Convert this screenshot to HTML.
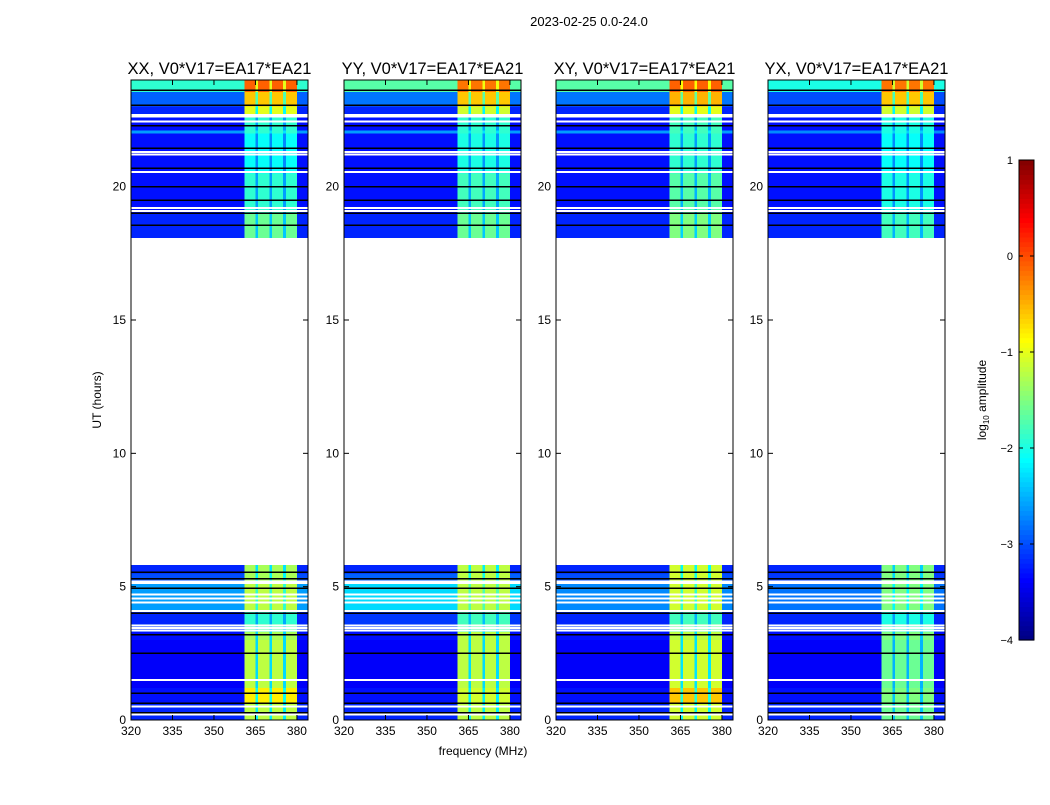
<!DOCTYPE html>
<html><head><meta charset="utf-8"><style>
body{margin:0;background:#fff;}
svg{font-family:"Liberation Sans",sans-serif;}
</style></head><body>
<svg id="fig" width="1050" height="800" viewBox="0 0 1050 800" xmlns="http://www.w3.org/2000/svg">
<text x="589" y="26" font-size="13" text-anchor="middle">2023-02-25 0.0-24.0</text>
<text x="483" y="755" font-size="12" text-anchor="middle">frequency (MHz)</text>
<text x="101" y="400" font-size="12" text-anchor="middle" transform="rotate(-90 101 400)">UT (hours)</text>
<g id="panels"></g>
<g id="cbar"></g>
</svg>
<script>
// ---- data ----
const panelTitles = ["XX, V0*V17=EA17*EA21","YY, V0*V17=EA17*EA21","XY, V0*V17=EA17*EA21","YX, V0*V17=EA17*EA21"];
const rowStart = [23.55,23.0,22.75,22.1,22.0,20.5,19.0,18.1, 5.5,5.2,4.05,3.6,3.3,3.0,1.2,0.6,0.0];
const rowEnd   = [24.0,23.55,23.0,22.6,22.1,22.0,20.5,19.0, 5.81,5.5,5.1,4.05,3.6,3.3,3.0,1.2,0.6];
const bgXX  = [-1.9,-2.9,-3.2,-3.3,-2.6,-3.3,-3.3,-3.2, -3.2,-3.0,-2.6,-3.2,-3.1,-3.3,-3.4,-3.3,-3.2];
const bgYY  = [-1.7,-2.8,-3.2,-3.3,-2.6,-3.3,-3.3,-3.2, -3.2,-2.9,-2.3,-3.1,-3.1,-3.3,-3.4,-3.3,-3.2];
const bgXY  = [-1.7,-2.8,-3.2,-3.3,-2.6,-3.3,-3.3,-3.2, -3.2,-3.0,-2.7,-3.2,-3.1,-3.3,-3.4,-3.3,-3.2];
const bgYX  = [-2.0,-3.0,-3.2,-3.3,-2.7,-3.3,-3.3,-3.2, -3.2,-3.1,-2.8,-3.2,-3.1,-3.3,-3.4,-3.3,-3.2];
const bandXX = [-0.1,-0.6,-1.0,-1.9,-1.9,-2.1,-1.9,-1.6, -1.3,-1.3,-1.2,-1.9,-1.7,-1.3,-1.2,-0.8,-1.2];
const bandYY = [-0.2,-0.6,-1.1,-1.9,-1.9,-2.0,-1.8,-1.6, -1.2,-1.2,-1.2,-1.8,-1.7,-1.2,-1.2,-1.1,-1.2];
const bandXY = [-0.1,-0.5,-1.0,-1.8,-1.8,-1.9,-1.7,-1.5, -1.1,-1.1,-1.1,-1.8,-1.6,-1.2,-1.1,-0.6,-1.1];
const bandYX = [-0.2,-0.6,-1.1,-2.0,-2.0,-2.1,-2.0,-1.8, -1.5,-1.5,-1.5,-2.0,-1.8,-1.5,-1.6,-1.5,-1.6];
const chanType = []; // per 1 MHz channel, 320..384: 0 background, 1 band, 2 gap
for (let f=320; f<384; f++) chanType.push((f>=361&&f<380)?([365,370,375].includes(f)?2:1):0);
const whiteHours = [22.68,22.45,21.3,21.2,20.55,19.2,19.08,5.15,5.2,4.7,4.55,4.4,4.08,3.55,3.45,3.35,1.5,0.5,0.2];
const blackHours = [23.62,23.05,22.28,21.45,20.7,20.0,19.5,19.0,18.55,5.55,5.3,4.95,4.0,3.2,2.5,1.0,0.62,0.28];
const xTicks = [320,335,350,365,380];
const yTicks = [0,5,10,15,20];
const cbTicks = [1,0,-1,-2,-3,-4];
const bgs=[bgXX,bgYY,bgXY,bgYX], bands=[bandXX,bandYY,bandXY,bandYX];
// ---- layout ----
const lefts=[131,344,556,768], PW=177, ptop=80, pbot=720;
const xs=f=>(f-320)*PW/64, ys=h=>pbot-(h/24)*(pbot-ptop);
function jet(v){ let t=(v+4)/5; t=Math.max(0,Math.min(1,t));
 const c=x=>Math.round(255*Math.max(0,Math.min(1,1.5-Math.abs(4*t-x))));
 return `rgb(${c(3)},${c(2)},${c(1)})`; }
const NS="http://www.w3.org/2000/svg";
function mk(tag,attrs,parent){const e=document.createElementNS(NS,tag);for(const k in attrs)e.setAttribute(k,attrs[k]);parent.appendChild(e);return e;}
const P=document.getElementById('panels');
for(let p=0;p<4;p++){
 const g=mk('g',{transform:`translate(${lefts[p]},0)`},P);
 
 
 const hm=mk('g',{'shape-rendering':'crispEdges'},g);
 for(let r=0;r<rowStart.length;r++){
  const y0=ys(rowEnd[r]), y1=ys(rowStart[r]);
  for(let c=0;c<chanType.length;c++){
   const t=chanType[c]; const v=t===0?bgs[p][r]:(t===1?bands[p][r]:(bands[p][r]+bgs[p][r])/2);
   const el=mk('rect',{x:xs(320+c),y:y0,width:xs(321)-xs(320)+0.5,height:y1-y0+0.5,fill:jet(v)},hm);
   
   
  }
 }
 whiteHours.forEach(h=>{const el=mk('rect',{x:0,y:ys(h)-1,width:PW,height:2,fill:'#fff'},hm);
  });
 blackHours.forEach(h=>{const el=mk('rect',{x:0,y:ys(h)-0.75,width:PW,height:1.5,fill:'#000'},hm);
  });
 const fr=mk('rect',{x:0,y:ptop,width:PW,height:pbot-ptop,fill:'none',stroke:'#000','stroke-width':1},g);
 
 xTicks.forEach(f=>{const x=xs(f);
  mk('line',{x1:x,x2:x,y1:pbot,y2:pbot-5,stroke:'#000'},g);mk('line',{x1:x,x2:x,y1:ptop,y2:ptop+5,stroke:'#000'},g);
  const t=mk('text',{x:x,y:pbot+15,'font-size':12,'text-anchor':'middle'},g);t.textContent=f;
  });
 yTicks.forEach(h=>{const y=ys(h);
  mk('line',{x1:0,x2:5,y1:y,y2:y,stroke:'#000'},g);mk('line',{x1:PW,x2:PW-5,y1:y,y2:y,stroke:'#000'},g);
  const t=mk('text',{x:-5,y:y+4,'font-size':12,'text-anchor':'end'},g);t.textContent=h;
  });
 const tt=mk('text',{x:PW/2,y:74,'font-size':16.5,'text-anchor':'middle'},g);tt.textContent=panelTitles[p];
 
}
// colorbar
const CB=document.getElementById('cbar'); const cbx=1019,cbw=15,cbt=160,cbb=640;
const cby=v=>cbb-(v+4)/5*(cbb-cbt);
for(let i=0;i<100;i++){const v=-4+i*0.05;mk('rect',{x:cbx,y:cby(v+0.05),width:cbw,height:(cbb-cbt)/100+0.6,fill:jet(v+0.025)},CB);}
mk('rect',{x:cbx,y:cbt,width:cbw,height:cbb-cbt,fill:'none',stroke:'#000'},CB);
cbTicks.forEach(v=>{const y=cby(v);mk('line',{x1:cbx,x2:cbx+4,y1:y,y2:y,stroke:'#000'},CB);mk('line',{x1:cbx+cbw,x2:cbx+cbw-4,y1:y,y2:y,stroke:'#000'},CB);
 const t=mk('text',{x:cbx-6,y:y+4,'font-size':11,'text-anchor':'end'},CB);t.textContent=v<0?'\u2212'+(-v):v;
 });
const lb=mk('text',{x:986,y:400,'font-size':12,'text-anchor':'middle',transform:'rotate(-90 986 400)'},CB);
lb.innerHTML='log<tspan font-size="8" dy="3">10</tspan><tspan dy="-3"> amplitude</tspan>';

</script>
</body></html>
